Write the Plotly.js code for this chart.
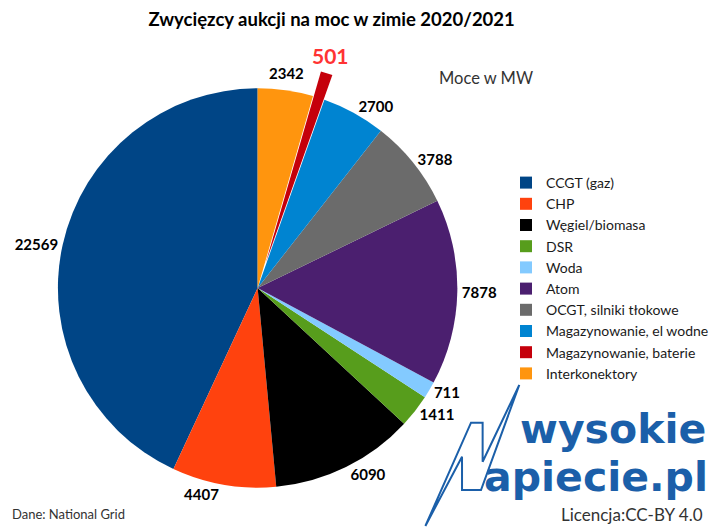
<!DOCTYPE html>
<html>
<head>
<meta charset="utf-8">
<script src="https://cdn.plot.ly/plotly-3.0.1.min.js"></script>
<style>html,body{margin:0;padding:0;background:#fff;}#chart{width:714px;height:527px;}</style>
</head>
<body>
<div id="chart"></div>
<script>
const categories = ["CCGT (gaz)", "CHP", "Węgiel/biomasa", "DSR", "Woda", "Atom", "OCGT, silniki tłokowe", "Magazynowanie, el wodne", "Magazynowanie, baterie", "Interkonektory"];
const values = [22569, 4407, 6090, 1411, 711, 7878, 3788, 2700, 501, 2342];
const colors = ["#004586", "#ff420e", "#000000", "#579d1c", "#83caff", "#4b1f6f", "#6b6b6b", "#0084d1", "#c5000b", "#ff950e"];
const pulls = [0, 0, 0, 0, 0, 0, 0, 0, 0.13, 0];
const labelPositions = ["outside", "outside", "outside", "outside", "outside", "outside", "outside", "outside", "none", "none"];
const titleText = "Zwycięzcy aukcji na moc w zimie 2020/2021";
const highlightIndex = 8;
const interIndex = 9;

const total = values.reduce((a, b) => a + b, 0);
const trace = {
  type: "pie",
  labels: categories,
  values: values,
  sort: false,
  direction: "counterclockwise",
  rotation: -360 * values[0] / total,
  pull: pulls,
  marker: {colors: colors, line: {width: 0}},
  textinfo: "value",
  textposition: labelPositions,
  texttemplate: "%{value:d}",
  textfont: {family: "Lato", weight: "bold", color: "#000", size: 15},
  domain: {x: [0.04482, 0.67787], y: [0.02467, 0.88235]},
  hoverinfo: "label+value",
  automargin: false
};

const blue = "#1b5fa9";
const layout = {
  width: 714, height: 527,
  margin: {l: 0, r: 0, t: 0, b: 0},
  paper_bgcolor: "#ffffff",
  showlegend: true,
  font: {family: "Lato", color: "#1a1a1a"},
  title: {text: titleText, font: {family: "Lato", weight: "bold", size: 18.5, color: "#000"},
          x: 0.4645, xanchor: "center", y: 1 - 20/527, yanchor: "middle", yref: "container"},
  legend: {x: 0.71, xanchor: "left", y: 1 - 167/527, yanchor: "top",
           font: {family: "Lato", size: 14, color: "#1a1a1a"}, bgcolor: "rgba(0,0,0,0)"},
  annotations: [
    {text: String(values[highlightIndex]), xref: "paper", yref: "paper", x: 331/714, y: 1 - 55/527,
     xanchor: "center", yanchor: "middle", showarrow: false,
     font: {family: "Lato", weight: "bold", size: 21, color: "#ff3333"}},
    {text: String(values[interIndex]), xref: "paper", yref: "paper", x: 287/714, y: 1 - 73/527,
     xanchor: "center", yanchor: "middle", showarrow: false,
     font: {family: "Lato", weight: "bold", size: 15, color: "#000"}},
    {text: "Moce w MW", xref: "paper", yref: "paper", x: 438/714, y: 1 - 78/527, xanchor: "left", yanchor: "middle",
     showarrow: false, font: {family: "Lato", size: 16.5, color: "#333"}},
    {text: "Dane: National Grid", xref: "paper", yref: "paper", x: 10/714, y: 1 - 514/527, xanchor: "left", yanchor: "middle",
     showarrow: false, font: {family: "Lato", size: 13, color: "#333"}},
    {text: "wysokie", xref: "paper", yref: "paper", x: 709/714, y: 1 - 429/527, xanchor: "right", yanchor: "middle",
     showarrow: false, font: {family: "DejaVu Sans", weight: "bold", size: 41, color: blue}},
    {text: "apiecie.pl", xref: "paper", yref: "paper", x: 711/714, y: 1 - 477/527, xanchor: "right", yanchor: "middle",
     showarrow: false, font: {family: "DejaVu Sans", weight: "bold", size: 41, color: blue}},
    {text: "Licencja:CC-BY 4.0", xref: "paper", yref: "paper", x: 706/714, y: 1 - 514/527, xanchor: "right", yanchor: "middle",
     showarrow: false, font: {family: "Lato", size: 17, color: "#333"}}
  ],
  shapes: [
    {type: "path", xref: "paper", yref: "paper",
     path: (function(){
       const pts = [[426,526],[471.7,422.7],[483.3,422.7],[483.3,461.7],[520,385],[481.7,490],[462.7,490],[462.7,456.7]];
       return "M" + pts.map(p => (p[0]/714).toFixed(4) + "," + (1 - p[1]/527).toFixed(4)).join("L") + "Z";
     })(),
     line: {color: blue, width: 2}, fillcolor: "rgba(0,0,0,0)"}
  ]
};

Plotly.newPlot("chart", [trace], layout, {displayModeBar: false, staticPlot: true});
</script>
</body>
</html>
